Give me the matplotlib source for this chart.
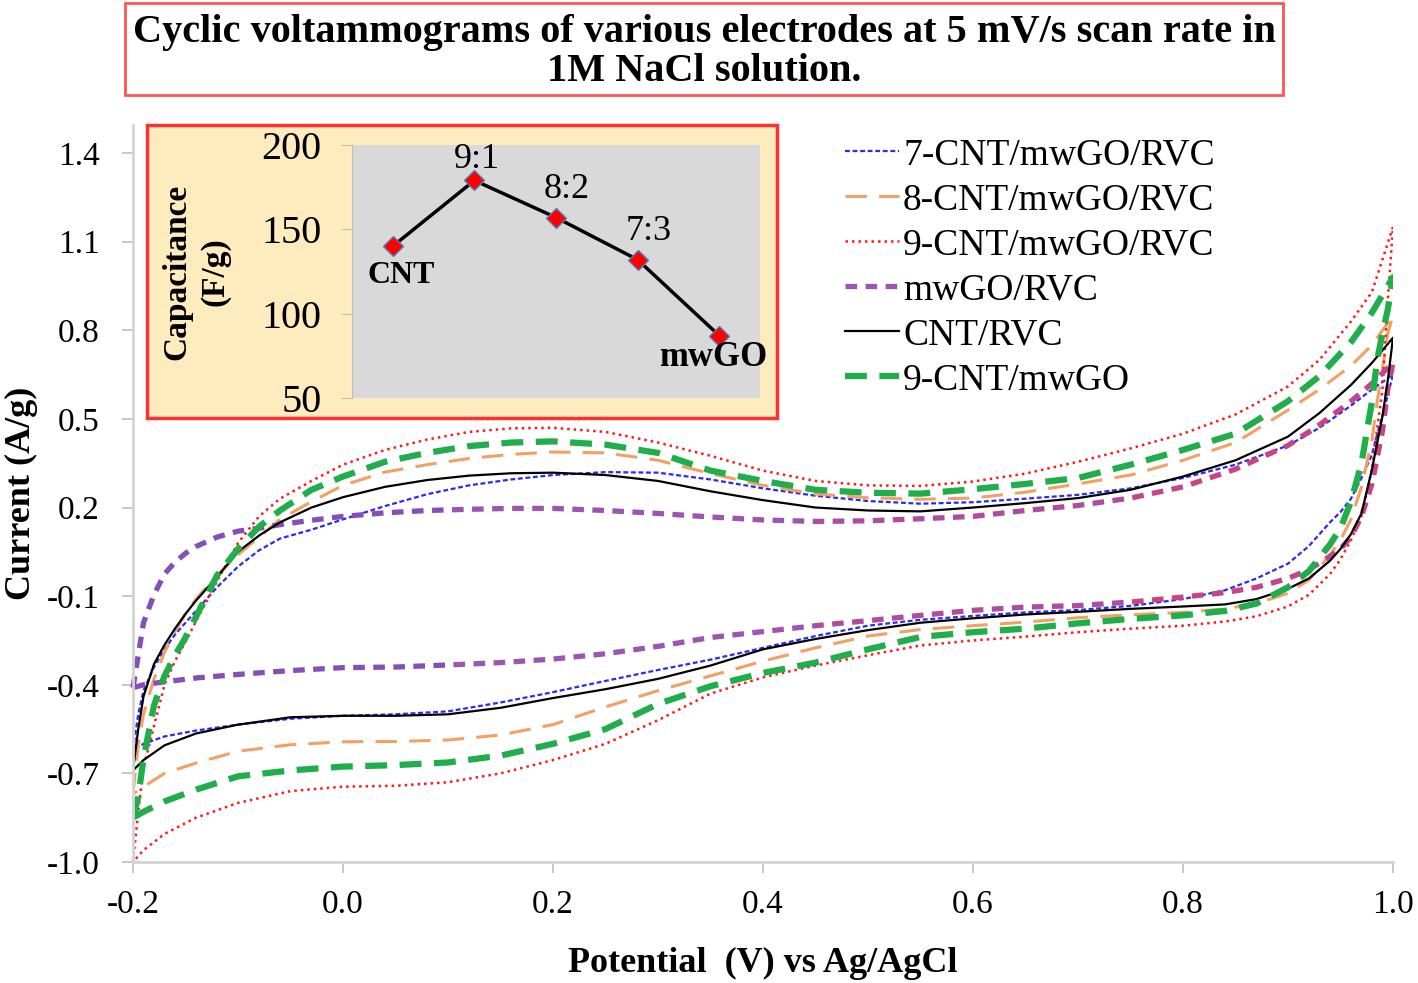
import matplotlib
matplotlib.use('Agg')
import matplotlib.pyplot as plt
from matplotlib.patches import Rectangle
import numpy as np

plt.rcParams['font.family'] = ['Liberation Serif', 'DejaVu Serif']
plt.rcParams['axes.unicode_minus'] = False

# potential grids (V vs Ag/AgCl): forward scan and reverse scan
E_fwd = [-0.2, -0.195, -0.19, -0.18, -0.17, -0.16, -0.15, -0.14, -0.12, -0.10, -0.08, -0.06, -0.03,
         0.0, 0.04, 0.08, 0.12, 0.16, 0.2, 0.25, 0.3, 0.35, 0.4, 0.45, 0.5, 0.55, 0.6, 0.65, 0.7,
         0.75, 0.8, 0.85, 0.9, 0.93, 0.96, 0.98, 1.0]
E_rev = [1.0, 0.995, 0.99, 0.985, 0.98, 0.97, 0.96, 0.95, 0.94, 0.92, 0.9, 0.87, 0.84, 0.8, 0.75,
         0.7, 0.65, 0.6, 0.55, 0.5, 0.45, 0.4, 0.35, 0.3, 0.25, 0.2, 0.15, 0.1, 0.05, 0.0, -0.05,
         -0.1, -0.14, -0.17, -0.19, -0.2]

# current (A/g)
cnt7_fwd = [-0.62, -0.5, -0.42, -0.34, -0.28, -0.23, -0.19, -0.15, -0.07, 0.0, 0.055, 0.095, 0.125,
            0.16, 0.205, 0.245, 0.275, 0.295, 0.31, 0.32, 0.318, 0.295, 0.265, 0.24, 0.222, 0.213,
            0.218, 0.23, 0.243, 0.265, 0.3, 0.345, 0.41, 0.47, 0.545, 0.6, 0.65]
cnt7_rev = [0.65, 0.58, 0.51, 0.45, 0.38, 0.3, 0.23, 0.185, 0.15, 0.07, 0.01, -0.04, -0.08, -0.11,
            -0.133, -0.147, -0.155, -0.167, -0.18, -0.2, -0.235, -0.275, -0.315, -0.35, -0.387,
            -0.425, -0.46, -0.49, -0.5, -0.505, -0.515, -0.535, -0.555, -0.575, -0.6, -0.62]

cnt8_fwd = [-0.77, -0.6, -0.5, -0.38, -0.29, -0.22, -0.16, -0.11, -0.03, 0.04, 0.1, 0.16, 0.22,
            0.275, 0.32, 0.345, 0.366, 0.38, 0.388, 0.385, 0.36, 0.315, 0.275, 0.246, 0.233, 0.228,
            0.232, 0.252, 0.28, 0.31, 0.36, 0.42, 0.53, 0.6, 0.68, 0.75, 0.85]
cnt8_rev = [0.85, 0.79, 0.67, 0.56, 0.43, 0.27, 0.16, 0.09, 0.04, -0.045, -0.09, -0.125, -0.143,
            -0.155, -0.163, -0.173, -0.188, -0.2, -0.213, -0.235, -0.275, -0.32, -0.37, -0.42,
            -0.475, -0.535, -0.57, -0.587, -0.592, -0.593, -0.603, -0.625, -0.665, -0.7, -0.745, -0.77]

cnt9_fwd = [-1.0, -0.83, -0.68, -0.54, -0.4, -0.32, -0.255, -0.185, -0.05, 0.08, 0.17, 0.23, 0.29,
            0.345, 0.395, 0.43, 0.456, 0.468, 0.47, 0.456, 0.42, 0.375, 0.325, 0.29, 0.275, 0.273,
            0.288, 0.315, 0.355, 0.4, 0.45, 0.515, 0.61, 0.7, 0.83, 0.93, 1.15]
cnt9_rev = [1.15, 0.9, 0.6, 0.47, 0.33, 0.17, 0.09, 0.025, -0.025, -0.095, -0.135, -0.168, -0.186,
            -0.2, -0.21, -0.222, -0.237, -0.25, -0.267, -0.3, -0.335, -0.375, -0.43, -0.52, -0.6,
            -0.655, -0.7, -0.73, -0.742, -0.745, -0.76, -0.8, -0.85, -0.905, -0.96, -1.0]

mwgo_fwd = [-0.41, -0.3, -0.19, -0.095, -0.025, 0.015, 0.045, 0.068, 0.1, 0.12, 0.13, 0.142, 0.157,
            0.17, 0.182, 0.19, 0.194, 0.197, 0.197, 0.19, 0.18, 0.168, 0.158, 0.153, 0.155, 0.162,
            0.17, 0.19, 0.207, 0.232, 0.27, 0.33, 0.41, 0.48, 0.56, 0.62, 0.69]
mwgo_rev = [0.69, 0.6, 0.46, 0.37, 0.28, 0.17, 0.1, 0.06, 0.035, -0.01, -0.04, -0.07, -0.088,
            -0.103, -0.12, -0.132, -0.137, -0.148, -0.165, -0.183, -0.2, -0.22, -0.24, -0.27,
            -0.295, -0.313, -0.325, -0.333, -0.34, -0.342, -0.352, -0.365, -0.377, -0.39, -0.4, -0.41]

cnt_fwd = [-0.69, -0.55, -0.44, -0.33, -0.265, -0.21, -0.16, -0.115, -0.035, 0.05, 0.105, 0.15, 0.2,
           0.235, 0.27, 0.293, 0.308, 0.316, 0.318, 0.31, 0.29, 0.255, 0.225, 0.2, 0.19, 0.187,
           0.2, 0.215, 0.232, 0.26, 0.305, 0.36, 0.44, 0.52, 0.615, 0.69, 0.775]
cnt_rev = [0.775, 0.63, 0.51, 0.42, 0.33, 0.18, 0.11, 0.06, 0.02, -0.04, -0.075, -0.11, -0.128,
           -0.135, -0.143, -0.153, -0.162, -0.175, -0.19, -0.215, -0.245, -0.28, -0.335, -0.38,
           -0.415, -0.445, -0.478, -0.5, -0.505, -0.505, -0.51, -0.535, -0.565, -0.605, -0.655, -0.69]

cnt9go_fwd = [-0.85, -0.78, -0.65, -0.47, -0.37, -0.3, -0.24, -0.17, -0.03, 0.06, 0.135, 0.19, 0.26,
              0.305, 0.355, 0.385, 0.408, 0.42, 0.424, 0.413, 0.385, 0.325, 0.29, 0.26, 0.25, 0.247,
              0.262, 0.28, 0.3, 0.345, 0.395, 0.45, 0.56, 0.645, 0.76, 0.86, 0.98]
cnt9go_rev = [0.98, 0.87, 0.79, 0.7, 0.56, 0.35, 0.22, 0.13, 0.075, -0.015, -0.07, -0.125, -0.15,
              -0.165, -0.177, -0.192, -0.21, -0.222, -0.238, -0.28, -0.325, -0.36, -0.405, -0.465,
              -0.55, -0.6, -0.64, -0.663, -0.672, -0.677, -0.69, -0.71, -0.755, -0.795, -0.83, -0.85]

# inset: specific capacitance (F/g)
ratio_labels = ['CNT', '9:1', '8:2', '7:3', 'mwGO']
capacitance = [140, 179, 157, 132, 87]

x_ticks = [-0.2, 0.0, 0.2, 0.4, 0.6, 0.8, 1.0]
y_ticks = [-1.0, -0.7, -0.4, -0.1, 0.2, 0.5, 0.8, 1.1, 1.4]

E_loop = E_fwd + E_rev

fig = plt.figure(figsize=(14.18, 9.83), dpi=100)
ax = fig.add_axes([133 / 1418, 1 - 862 / 983, 1260 / 1418, 737 / 983])
ax.set_zorder(0)

ax.plot(E_loop, cnt7_fwd + cnt7_rev, color='#2B2BF0', lw=1.6, ls=(0, (2.2, 1.2)), label='7-CNT/mwGO/RVC')
ax.plot(E_loop, cnt8_fwd + cnt8_rev, color='#F2A064', lw=2.2, ls=(0, (7, 4)), label='8-CNT/mwGO/RVC')
ax.plot(E_loop, cnt9_fwd + cnt9_rev, color='#FF1A1A', lw=1.8, ls=(0, (1, 1.6)), label='9-CNT/mwGO/RVC')

# mwGO/RVC drawn in colour bands (purple on the left shading to pink on the right)
bands = [(-0.25, 0.1, '#8450B8'), (0.1, 0.45, '#9C55B0'), (0.45, 0.75, '#B04C9E'), (0.75, 1.05, '#C84487')]
for i, (x0, x1, c) in enumerate(bands):
    ln, = ax.plot(E_loop, mwgo_fwd + mwgo_rev, color=c, lw=3.8, ls=(0, (2.2, 1.6)),
                  label='mwGO/RVC' if i == 1 else None)
    clip = Rectangle((x0, -2), x1 - x0, 4, transform=ax.transData, visible=False)
    ax.add_patch(clip)
    ln.set_clip_path(clip)

ax.plot(E_loop, cnt_fwd + cnt_rev, color='black', lw=1.6, label='CNT/RVC')
ax.plot(E_loop, cnt9go_fwd + cnt9go_rev, color='#1FAE4B', lw=4.5, ls=(0, (3.5, 2)), label='9-CNT/mwGO')

ax.set_xlim(-0.2, 1.0)
ax.set_ylim(-1.0, 1.495)
ax.set_xticks(x_ticks)
ax.set_xticklabels(['%.1f' % v for v in x_ticks])
ax.set_yticks(y_ticks)
ax.set_yticklabels(['%.1f' % v for v in y_ticks])
ax.tick_params(labelsize=24, colors='#BFBFBF', labelcolor='black', length=8, width=1.2)
ax.tick_params(axis='y', pad=16)
ax.tick_params(axis='x', pad=12)
for s in ['top', 'right']:
    ax.spines[s].set_visible(False)
for s in ['left', 'bottom']:
    ax.spines[s].set_color('#D4D4D4')
    ax.spines[s].set_linewidth(2)

ax.set_xlabel('Potential  (V) vs Ag/AgCl', fontsize=26, fontweight='bold', labelpad=19)
ax.set_ylabel('Current (A/g)', fontsize=26, fontweight='bold', labelpad=6)

ax.legend(loc='upper left', bbox_to_anchor=(845 / 1418, 1 - 138 / 983), bbox_transform=fig.transFigure,
          frameon=False, fontsize=27, handlelength=1.45, handletextpad=0.1, labelspacing=0.28,
          borderpad=0, borderaxespad=0)

# title box
fig.add_artist(Rectangle((125 / 1418, 1 - 95 / 983), 1158 / 1418, 92 / 983, transform=fig.transFigure,
                         fill=False, ec='#FF5555', lw=2, zorder=1))
fig.text(704 / 1418, 1 - 52 / 983,
         'Cyclic voltammograms of various electrodes at 5 mV/s scan rate in\n1M NaCl solution.',
         ha='center', va='center', fontsize=29, fontweight='bold', linespacing=1.1)

# inset box
fig.add_artist(Rectangle((147 / 1418, 1 - 418 / 983), 630 / 1418, 293 / 983, transform=fig.transFigure,
                         fc='#FEEBBE', ec='#FF3030', lw=2.5, zorder=1))
axi = fig.add_axes([352 / 1418, 1 - 398 / 983, 408 / 1418, 253 / 983])
axi.set_zorder(2)
axi.set_facecolor('#D9D9D9')
axi.plot(ratio_labels, capacitance, color='black', lw=2.5, marker='D', ms=10,
         mfc='red', mec='#4F81BD', mew=1)
axi.set_xlim(-0.5, 4.5)
axi.set_ylim(50, 200)
axi.set_yticks([50, 100, 150, 200])
axi.set_xticks([])
axi.tick_params(axis='y', labelsize=29, colors='#BFBFBF', labelcolor='black', length=8, pad=14)
for s in ['top', 'right', 'bottom']:
    axi.spines[s].set_visible(False)
axi.spines['left'].set_color('#BFBFBF')
axi.set_ylabel('Capacitance\n(F/g)', fontsize=24, fontweight='bold', linespacing=1.3, labelpad=22)

offsets = {'CNT': (6, -21), '9:1': (2, 15), '8:2': (8, 20), '7:3': (8, 20), 'mwGO': (-4, -16)}
sizes = {'CNT': 23, '9:1': 26, '8:2': 26, '7:3': 26, 'mwGO': 25}
for lab, val in zip(ratio_labels, capacitance):
    bold = lab in ('CNT', 'mwGO')
    axi.annotate(lab, (lab, val), xytext=offsets[lab], textcoords='offset points', ha='center',
                 va='center', fontsize=sizes[lab], fontweight='bold' if bold else 'normal')

fig.savefig('out.png', dpi=100)
